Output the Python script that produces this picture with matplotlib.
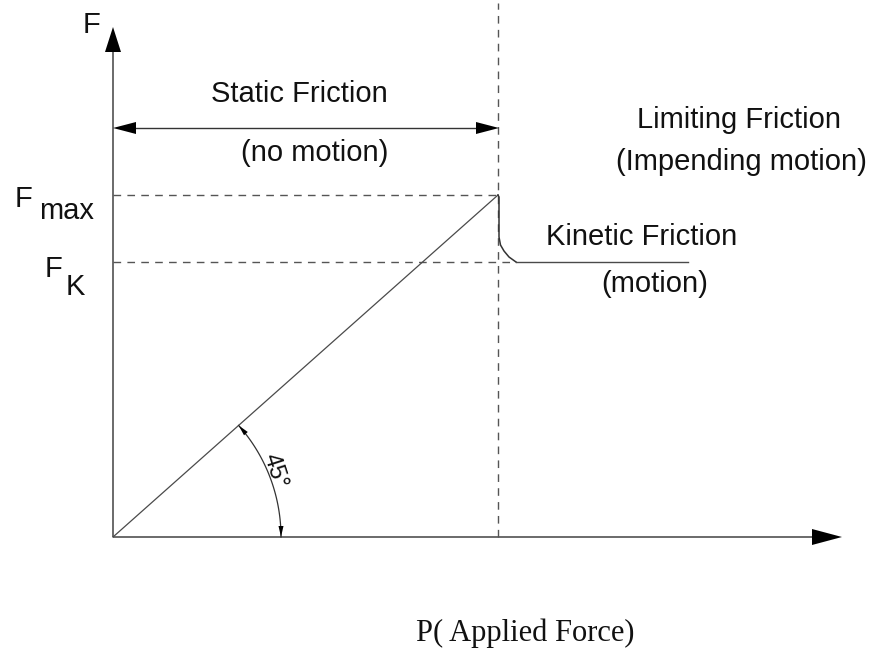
import numpy as np
import matplotlib
matplotlib.use("Agg")
import matplotlib.pyplot as plt

# ---- data (diagram units: origin at the axes corner) ----
P_peak = 385          # applied force at limiting friction
F_max = 342           # maximum static friction
F_K = 275             # kinetic friction level
P_end = 575           # extent of kinetic line
P_axis = 729          # x-axis arrow tip
F_axis = 510          # y-axis arrow tip
F_top = 534           # top of vertical dashed line
arrow_level = 409     # height of "static friction" double arrow
arc_radius = 168

static_P = [0, P_peak]
static_F = [0, F_max]
drop_P = [P_peak, 386, 386, 387.5, 391, 396, 403]
drop_F = [F_max, 340, 300, 292, 286, 280, F_K]
kinetic_P = [403, P_end]
kinetic_F = [F_K, F_K]

sans = "Liberation Sans"
serif = "Liberation Serif"
fs = 21

fig = plt.figure(figsize=(8.76, 6.49), dpi=100)
ax = fig.add_axes([0, 0, 1, 1])
ax.set_xlim(-113, 763)
ax.set_ylim(-112, 537)
ax.axis("off")

axis_col = "#6a6a6a"
line_col = "#4a4a4a"
dash_col = "#555555"


def head(tip, direction, length, width, color="black"):
    d = np.asarray(direction, float)
    d = d / np.hypot(*d)
    n = np.array([-d[1], d[0]])
    tip = np.asarray(tip, float)
    base = tip - d * length
    pts = np.array([tip, base + n * width / 2, base - n * width / 2])
    ax.fill(pts[:, 0], pts[:, 1], color=color, lw=0, zorder=5)


# axes
ax.plot([0, 0], [0, F_axis - 20], color=axis_col, lw=1.4, solid_capstyle="butt")
ax.plot([0, P_axis - 25], [0, 0], color=axis_col, lw=1.4, solid_capstyle="butt")
head((0, F_axis), (0, 1), 25, 16)
head((P_axis, 0), (1, 0), 30, 16)

# dashed guide lines
dash = (0, (5.5, 4.5))
ax.plot([P_peak, P_peak], [0, F_top], color=dash_col, lw=1.0, linestyle=dash)
ax.plot([0, P_peak], [F_max, F_max], color=dash_col, lw=1.0, linestyle=dash)
ax.plot([0, 403], [F_K, F_K], color=dash_col, lw=1.0, linestyle=dash)

# friction curve
ax.plot(static_P, static_F, color=line_col, lw=0.9)
ax.plot(drop_P, drop_F, color="#333333", lw=1.1)
ax.plot(kinetic_P, kinetic_F, color=line_col, lw=1.0)

# static friction double arrow
ax.plot([15, P_peak - 15], [arrow_level, arrow_level], color="#333333", lw=1.0)
head((0, arrow_level), (-1, 0), 23, 12)
head((P_peak + 1, arrow_level), (1, 0), 23, 12)

# 45 degree arc
theta = np.arctan2(F_max, P_peak)
t = np.linspace(0, theta, 100)
ax.plot(arc_radius * np.cos(t), arc_radius * np.sin(t), color="#333333", lw=0.9)
head((arc_radius, 0), (0, -1), 11, 5)
head((arc_radius * np.cos(theta), arc_radius * np.sin(theta)),
     (-np.sin(theta), np.cos(theta)), 11, 5)
ax.text(162, 66, "45°", rotation=-72, fontsize=17, family=sans,
        ha="center", va="center", color="#111111")

# texts
txt = dict(family=sans, fontsize=fs, color="#111111")
ax.text(-30, 504, "F", ha="left", va="baseline", **txt)
ax.text(186, 435, "Static Friction", ha="center", va="baseline", **txt)
ax.text(202, 376, "(no motion)", ha="center", va="baseline", **txt)
ax.text(626, 409, "Limiting Friction", ha="center", va="baseline", **txt)
ax.text(628, 367, "(Impending motion)", ha="center", va="baseline", **txt)
ax.text(529, 292, "Kinetic Friction", ha="center", va="baseline", **txt)
ax.text(542, 245, "(motion)", ha="center", va="baseline", **txt)
ax.text(-98, 330, "F", ha="left", va="baseline", **txt)
ax.text(-74, 318, "max", ha="left", va="baseline", **txt)
ax.text(-68, 260, "F", ha="left", va="baseline", **txt)
ax.text(-47, 242, "K", ha="left", va="baseline", **txt)
ax.text(412, -104, "P( Applied Force)", ha="center", va="baseline",
        family=serif, fontsize=22, color="#111111")

fig.savefig("out.png", dpi=100)
